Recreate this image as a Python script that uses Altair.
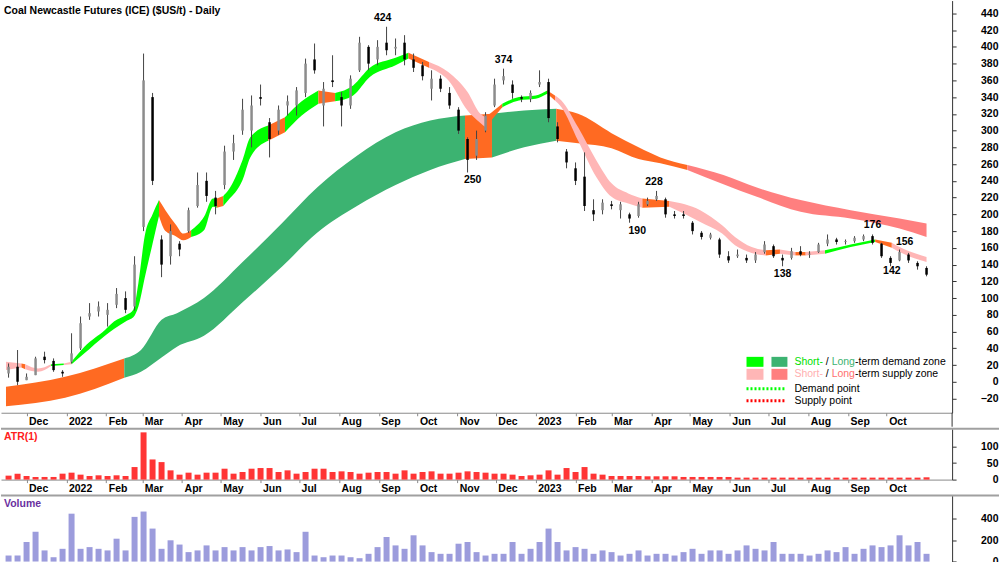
import altair as alt
import pandas as pd

FONT = "Liberation Sans"
START = pd.Timestamp("2021-11-15")   # Monday of the first week shown

# ---------------- weekly OHLC (week i starts START + 7*i days) ----------------
price_open = [10, 18, 2, 8, 30, 25, 12, 24, 40, 78,
              84, 80, 92, 100, 90, 185, 340, 170, 150, 165,
              180, 210, 240, 220, 235, 275, 300, 300, 340, 310,
              300, 330, 330, 345, 385, 330, 360, 340, 330, 372,
              400, 385, 405, 398, 405, 385, 378, 350, 362, 345,
              325, 290, 270, 300, 330, 360, 355, 340, 338, 355,
              358, 305, 275, 255, 245, 205, 205, 212, 205, 200,
              198, 212, 218, 218, 200, 200, 190, 178, 172, 170,
              150, 150, 148, 145, 155, 162, 148, 148, 156, 152,
              155, 165, 170, 167, 168, 170, 174, 165, 148, 145,
              152, 142, 136]
price_high = [22, 38, 10, 30, 36, 28, 14, 58, 78, 94,
              96, 94, 112, 108, 150, 392, 345, 175, 188, 168,
              208, 250, 250, 228, 282, 295, 338, 342, 355, 315,
              330, 342, 352, 386, 404, 358, 390, 346, 366, 412,
              402, 408, 424, 410, 414, 392, 382, 372, 366, 352,
              328, 292, 300, 322, 362, 374, 360, 342, 348, 372,
              362, 310, 278, 262, 274, 218, 218, 216, 215, 202,
              215, 220, 228, 220, 204, 204, 192, 180, 178, 172,
              156, 158, 152, 155, 168, 164, 152, 160, 162, 156,
              166, 176, 172, 170, 174, 176, 176, 166, 150, 158,
              154, 144, 138]
price_low = [5, -4, 2, 8, 22, 12, 6, 22, 38, 74,
             78, 66, 88, 82, 85, 180, 235, 125, 140, 150,
             178, 208, 215, 200, 230, 265, 295, 280, 330, 268,
             295, 318, 318, 340, 368, 305, 352, 305, 326, 370,
             372, 378, 390, 390, 378, 370, 360, 336, 346, 326,
             296, 250, 265, 298, 328, 355, 338, 334, 334, 352,
             310, 286, 255, 235, 204, 192, 200, 206, 195, 190,
             196, 210, 216, 196, 195, 195, 176, 170, 170, 148,
             142, 148, 142, 142, 153, 148, 138, 146, 150, 148,
             154, 162, 164, 164, 166, 168, 164, 148, 138, 144,
             142, 134, 126]
price_close = [18, 0, 6, 28, 26, 14, 10, 34, 70, 82,
               90, 86, 105, 86, 140, 360, 240, 140, 180, 158,
               205, 235, 222, 210, 275, 285, 325, 330, 338, 290,
               325, 335, 348, 380, 372, 350, 358, 330, 362, 405,
               380, 400, 396, 400, 385, 375, 365, 362, 350, 330,
               300, 265, 290, 318, 355, 365, 345, 338, 345, 358,
               315, 290, 262, 240, 210, 200, 214, 210, 212, 195,
               212, 216, 222, 200, 198, 198, 180, 173, 176, 152,
               145, 152, 145, 152, 164, 150, 145, 156, 152, 153,
               164, 170, 167, 168, 172, 174, 166, 150, 142, 155,
               145, 138, 128]
atr_weekly = [12, 18, 11, 8, 8, 8, 18, 21, 15, 11,
              13, 11, 13, 11, 38, 143, 61, 53, 28, 15,
              21, 15, 21, 21, 33, 18, 23, 33, 35, 35,
              23, 28, 18, 23, 33, 33, 23, 25, 23, 18,
              21, 23, 23, 18, 28, 18, 23, 25, 18, 18,
              21, 25, 23, 21, 18, 18, 15, 11, 13, 15,
              28, 15, 35, 23, 38, 18, 15, 11, 11, 11,
              11, 10, 10, 10, 10, 8, 8, 8, 8, 8,
              8, 6, 6, 6, 6, 6, 6, 6, 6, 6,
              6, 6, 6, 6, 6, 6, 6, 6, 6, 6,
              6, 6, 7]
volume_weekly = [57, 57, 184, 280, 105, 41, 120, 450, 120, 136,
                 120, 105, 215, 105, 420, 470, 310, 120, 200, 160,
                 89, 105, 152, 105, 136, 105, 136, 105, 136, 146,
                 105, 114, 89, 280, 57, 41, 57, 57, 41, 32,
                 73, 136, 231, 152, 120, 247, 152, 89, 73, 73,
                 168, 184, 89, 57, 73, 73, 184, 73, 120, 184,
                 310, 184, 105, 136, 120, 73, 105, 89, 57, 73,
                 105, 57, 73, 73, 57, 89, 120, 73, 105, 105,
                 73, 105, 152, 120, 105, 184, 73, 73, 73, 57,
                 73, 105, 89, 136, 73, 120, 152, 136, 152, 247,
                 152, 184, 73]

# ---------------- zones (days since START; state of the stretch starting at each point) ----------------
long_day = [0, 46, 92, 105, 121, 133, 154, 184, 215, 242, 273, 303, 330, 357,
            378, 403, 428, 445, 471, 492, 509, 530, 558, 584, 618, 657, 695, 716]
long_upper = [-6, 6, 28, 38, 74, 82, 100, 143, 190, 232, 270, 298, 312, 318,
              320, 324, 326, 320, 297, 280, 268, 259, 247, 232, 217, 205, 195, 189]
long_lower = [-29, -19, 5, 12, 29, 42, 55, 95, 138, 178, 210, 235, 253, 266,
              268, 280, 288, 285, 279, 266, 261, 253, 236, 221, 203, 195, 183, 173]
long_state = ["T", "T", "LD", "LD", "LD", "LD", "LD", "LD", "LD", "LD", "LD", "LD", "LD", "T",
              "LD", "LD", "T", "T", "T", "T", "T", "LS", "LS", "LS", "LS", "LS", "LS", "LS"]

short_day = [0, 12, 15, 25, 35, 45, 51, 61, 77, 84, 94, 99, 103, 108, 114, 119, 124, 132,
             138, 144, 154, 161, 164, 169, 173, 184, 190, 204, 217, 230, 243, 256, 270, 283,
             303, 313, 329, 344, 359, 369, 373, 386, 399, 412, 421, 427, 432, 445, 459, 471,
             484, 495, 516, 540, 557, 567, 580, 591, 602, 614, 622, 637, 657, 676, 689, 695, 716]
short_upper = [24, 22, 21, 16, 21, 22, 24, 42, 62, 72, 80, 86, 118, 175, 200, 217, 205, 188,
               177, 181, 197, 219, 219, 222, 229, 265, 292, 306, 316, 335, 348, 345, 354, 375,
               387, 393, 382, 370, 346, 320, 316, 332, 340, 342, 348, 342, 336, 304, 265, 237,
               225, 219, 216, 205, 187, 173, 161, 157, 158, 155, 155, 157, 164, 170, 166, 161, 149]
short_lower = [14, 17, 15, 12, 19, 20, 21, 34, 55, 63, 73, 77, 90, 125, 165, 198, 180, 174,
               169, 173, 181, 209, 208, 210, 217, 241, 268, 288, 298, 318, 332, 335, 342, 364,
               378, 386, 375, 360, 324, 309, 304, 328, 336, 338, 344, 336, 328, 288, 245, 221,
               213, 208, 209, 191, 177, 163, 154, 151, 153, 151, 151, 153, 161, 167, 160, 155, 143]
short_state = ["SS", "T", "SS", "SS", "SD", "SS", "SD", "SD", "SD", "SD", "SD", "SD", "SD", "SD",
               "SD", "T", "T", "T", "T", "SD", "SD", "SD", "T", "SD", "SD", "SD", "SD", "T", "SD",
               "SD", "T", "SD", "SD", "SD", "SD", "T", "SS", "SS", "SS", "SS", "T", "SD", "SD", "SD",
               "T", "SS", "SS", "SS", "SS", "SS", "SS", "T", "SS", "SS", "SS", "SS", "SS", "T", "SS",
               "T", "SS", "SD", "SD", "T", "SS", "SS", "SS"]

# ---------------- swing labels ----------------
high_label_day = [293, 387, 504, 674, 699]
high_label_val = [424, 374, 228, 176, 156]
low_label_day = [363, 491, 604, 689]
low_label_val = [250, 190, 138, 142]

# ---------------- frames ----------------
n = len(price_open)
weeks = pd.DataFrame({
    "date": [START + pd.Timedelta(days=7 * i + 2) for i in range(n)],
    "open": price_open, "high": price_high, "low": price_low, "close": price_close,
    "atr": atr_weekly, "volume": volume_weekly,
})


def band_frame(days, up, lo, state):
    rows, seg = [], 0
    for i in range(len(days) - 1):
        if i > 0 and state[i] != state[i - 1]:
            seg += 1
        for j in (i, i + 1):
            rows.append(dict(date=START + pd.Timedelta(days=days[j]), upper=up[j],
                             lower=lo[j], state=state[i], seg=str(seg)))
    return pd.DataFrame(rows).drop_duplicates(subset=["date", "seg"])


long_df = band_frame(long_day, long_upper, long_lower, long_state)
short_df = band_frame(short_day, short_upper, short_lower, short_state)
hi_df = pd.DataFrame({"date": [START + pd.Timedelta(days=d) for d in high_label_day],
                      "val": high_label_val, "txt": [str(v) for v in high_label_val]})
lo_df = pd.DataFrame({"date": [START + pd.Timedelta(days=d) for d in low_label_day],
                      "val": low_label_val, "txt": [str(v) for v in low_label_val]})
one = pd.DataFrame({"k": [0]})

# ---------------- scales / axes ----------------
W = 953
H_MAIN, H_ATR, H_VOL = 413, 51, 67
x_scale = alt.Scale(domain=[alt.DateTime(year=2021, month=11, date=15),
                            alt.DateTime(year=2023, month=11, date=17)])
month_ticks = [alt.DateTime(year=d.year, month=d.month, date=1)
               for d in pd.date_range("2021-12-01", "2023-10-01", freq="MS")]
x_axis = alt.Axis(values=month_ticks,
                  labelExpr="month(datum.value) == 0 ? timeFormat(datum.value, '%Y') : timeFormat(datum.value, '%b')",
                  labelAlign="left", labelOffset=2, labelPadding=1, tickSize=3,
                  domainColor="#8a8a8a", tickColor="#8a8a8a", labelColor="#000",
                  labelFont=FONT, labelFontSize=10.5, labelFontWeight="bold",
                  title=None, grid=False, labelOverlap=False, labelFlush=False)
X = alt.X("date:T", scale=x_scale, axis=x_axis)


def y_axis(vals):
    return alt.Axis(orient="right", values=vals, labelAlign="right", labelPadding=42, tickSize=4,
                    domainColor="#333", tickColor="#333", labelColor="#000", labelFont=FONT,
                    labelFontSize=10.5, labelFontWeight="bold", title=None, grid=False)


y_main = alt.Scale(domain=[-36.9, 455.3], nice=False, zero=False)
main_axis = y_axis(list(range(-20, 441, 20)))
zone_colors = alt.Scale(domain=["SD", "LD", "SS", "LS", "T"],
                        range=["#00FF00", "#3CB371", "#FFB6B6", "#FF7F7F", "#FF6A22"])


def band_layer(df):
    return alt.Chart(df).mark_area(interpolate="monotone").encode(
        x=X, y=alt.Y("upper:Q", scale=y_main, axis=main_axis), y2="lower:Q",
        color=alt.Color("state:N", scale=zone_colors, legend=None), detail="seg:N")


wicks = alt.Chart(weeks).mark_rule(color="#444", strokeWidth=1).encode(
    x=X, y=alt.Y("low:Q", scale=y_main, axis=main_axis), y2="high:Q")
bodies = alt.Chart(weeks).mark_bar(size=2.5).encode(
    x=X, y=alt.Y("open:Q", scale=y_main, axis=main_axis), y2="close:Q",
    color=alt.condition("datum.close >= datum.open", alt.value("#8c8c8c"), alt.value("#000000")))
hi_text = alt.Chart(hi_df).mark_text(font=FONT, fontSize=10.5, fontWeight="bold", dy=-9).encode(
    x=X, y=alt.Y("val:Q", scale=y_main, axis=main_axis), text="txt:N")
lo_text = alt.Chart(lo_df).mark_text(font=FONT, fontSize=10.5, fontWeight="bold", dy=8).encode(
    x=X, y=alt.Y("val:Q", scale=y_main, axis=main_axis), text="txt:N")


def px_text(txt, x, y, color="#000", size=10.5, weight="normal"):
    return alt.Chart(one).mark_text(text=txt, align="left", baseline="middle", font=FONT,
                                    fontSize=size, fontWeight=weight, color=color).encode(
        x=alt.value(x), y=alt.value(y))


def px_rect(x1, x2, y1, y2, color):
    return alt.Chart(one).mark_rect(color=color).encode(
        x=alt.value(x1), x2=alt.value(x2), y=alt.value(y1), y2=alt.value(y2))


def px_rule(x1, x2, y1, y2, color, width, dash=None):
    kw = dict(color=color, strokeWidth=width)
    if dash:
        kw["strokeDash"] = dash
    return alt.Chart(one).mark_rule(**kw).encode(
        x=alt.value(x1), x2=alt.value(x2), y=alt.value(y1), y2=alt.value(y2))


legend_layers = [
    px_rect(747, 764, 357, 367, "#00FF00"), px_rect(772, 788, 357, 367, "#3CB371"),
    px_rect(747, 764, 369, 380, "#FFB6B6"), px_rect(772, 788, 369, 380, "#FF7F7F"),
    px_text("Short-", 795, 362, "#00E000"), px_text("/", 826.5, 362),
    px_text("Long", 832.3, 362, "#3CB371"), px_text("-term demand zone", 855.7, 362),
    px_text("Short-", 795, 374, "#FFB0B0"), px_text("/", 826.5, 374),
    px_text("Long", 832.3, 374, "#FF6F6F"), px_text("-term supply zone", 855.7, 374),
    px_rule(747, 787, 389, 389, "#00FF00", 3, [2, 2]), px_text("Demand point", 795, 389),
    px_rule(747, 787, 401, 401, "#FF0000", 3, [2, 2]), px_text("Supply point", 795, 401),
]

main = alt.layer(
    band_layer(long_df), band_layer(short_df), wicks, bodies, hi_text, lo_text,
    px_text("Coal Newcastle Futures (ICE) ($US/t) - Daily", 3, 10, weight="bold"),
    px_rule(W, W, H_MAIN, H_MAIN + 14, "#333", 1),
    *legend_layers,
).properties(width=W, height=H_MAIN)

atr = alt.layer(
    alt.Chart(weeks).mark_bar(size=6, color="#FF3535").encode(
        x=X, y=alt.Y("atr:Q", scale=alt.Scale(domain=[0, 154], nice=False),
                     axis=y_axis([0, 50, 100]))),
    px_rule(0, 1000, 0, 0, "#a0a0a0", 2),
    px_text("ATR(1)", 3, 8, "#FF2020", weight="bold"),
).properties(width=W, height=H_ATR)

vol = alt.layer(
    alt.Chart(weeks).mark_bar(size=6, color="#9C9CDC").encode(
        x=alt.X("date:T", scale=x_scale, axis=None),
        y=alt.Y("volume:Q", scale=alt.Scale(domain=[-8, 620], nice=False, zero=False),
                axis=y_axis([0, 200, 400]))),
    px_rule(0, 1000, 0, 0, "#a0a0a0", 2),
    px_text("Volume", 3, 8, "#6A2FA0", weight="bold"),
).properties(width=W, height=H_VOL)

chart = alt.vconcat(main, atr, vol, spacing=0).properties(
    padding={"left": 0, "top": 0, "right": 0, "bottom": 0}, background="white"
).configure_view(stroke=None)

chart.save("out.html", embed_options={"renderer": "svg", "actions": False})
